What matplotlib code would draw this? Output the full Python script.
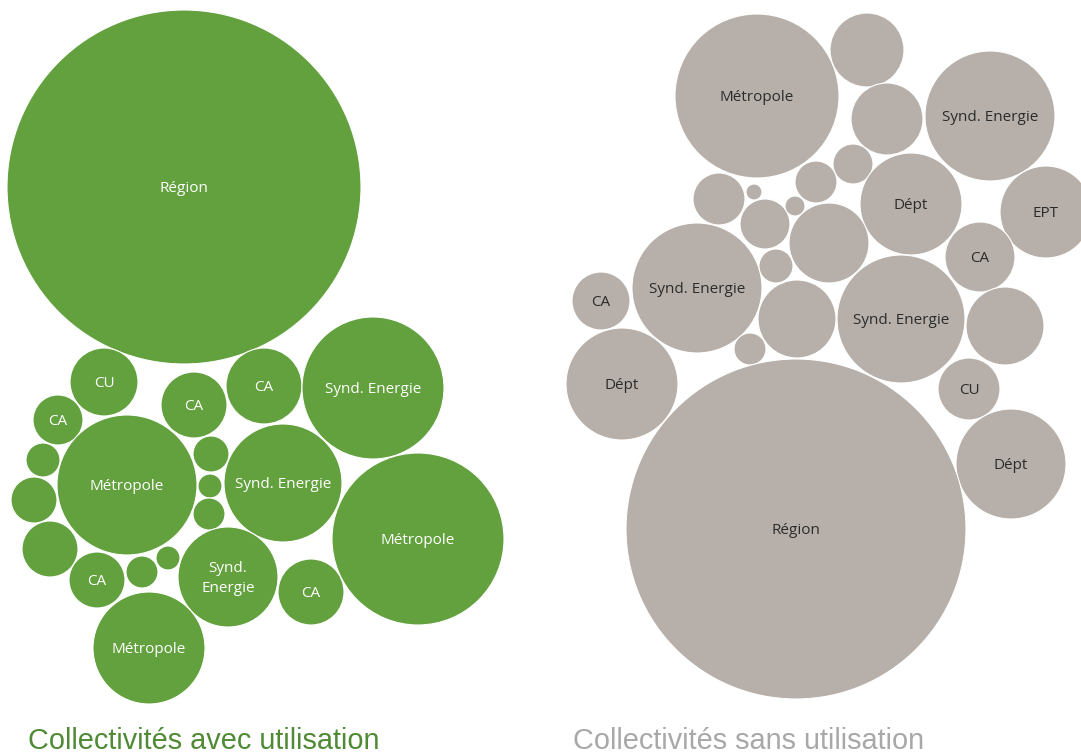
import matplotlib
matplotlib.use("Agg")
import matplotlib.pyplot as plt
from matplotlib.patches import Circle

# ---- Data: bubbles (centre x, centre y, radius in layout units) ----
avec_labels = ["Région", "CU", "CA", "CA", "CA", "Synd. Energie", "Métropole",
               "", "", "", "", "", "", "Synd. Energie", "Métropole", "CA",
               "", "", "Synd.\nEnergie", "CA", "Métropole"]
avec_x = [184, 104, 58, 194, 264, 373, 127, 43, 34, 50, 211, 210, 209, 283, 418, 97,
          142, 168, 228, 311, 149]
avec_y = [187, 382, 420, 405, 386, 388, 485, 460, 500, 549, 454, 486, 514, 483, 539, 580,
          572, 558, 577, 592, 648]
avec_r = [177, 34, 25, 33, 38, 71, 70, 17, 23, 28, 18, 12, 16, 59, 86, 28,
          16, 12, 50, 33, 56]

sans_labels = ["Métropole", "", "", "Synd. Energie", "", "Dépt", "EPT", "", "", "", "",
               "", "", "CA", "Synd. Energie", "CA", "", "", "Synd. Energie", "", "",
               "Dépt", "CU", "Dépt", "Région"]
sans_x = [757, 867, 887, 990, 853, 911, 1046, 816, 719, 754, 765, 795, 829, 980, 697, 601,
          776, 797, 901, 1005, 750, 622, 969, 1011, 796]
sans_y = [96, 50, 119, 116, 164, 204, 212, 182, 199, 192, 224, 206, 243, 257, 288, 301,
          266, 319, 319, 326, 349, 384, 389, 464, 529]
sans_r = [82, 37, 36, 65, 20, 51, 46, 21, 26, 8, 25, 10, 40, 35, 65, 29,
          17, 39, 64, 39, 16, 56, 31, 55, 170]

group_titles = ["Collectivités avec utilisation", "Collectivités sans utilisation"]

# ---- Styles ----
GREEN = "#62a13e"
GREY = "#b7b0aa"
TITLE_GREEN = "#4f8a35"
TITLE_GREY = "#a8a8a8"

W, H = 1081, 755
fig = plt.figure(figsize=(W / 100, H / 100), dpi=100)
ax = fig.add_axes([0, 0, 1, 1])
ax.set_xlim(0, W)
ax.set_ylim(H, 0)
ax.set_aspect("equal")
ax.axis("off")

label_font = ["Open Sans", "DejaVu Sans"]

def draw_group(xs, ys, rs, labels, face, text_color):
    for x, y, r, lab in zip(xs, ys, rs, labels):
        ax.add_patch(Circle((x, y), r, facecolor=face, edgecolor="white", linewidth=0.8))
        if lab:
            ax.text(x, y + 1.5, lab, ha="center", va="center", color=text_color,
                    fontsize=11, family=label_font, linespacing=1.45)

draw_group(avec_x, avec_y, avec_r, avec_labels, GREEN, "white")
draw_group(sans_x, sans_y, sans_r, sans_labels, GREY, "#2b2b2b")

ax.text(28, 749, group_titles[0], ha="left", va="baseline", color=TITLE_GREEN,
        fontsize=20.8, family=["Liberation Sans", "DejaVu Sans"])
ax.text(573, 749, group_titles[1], ha="left", va="baseline", color=TITLE_GREY,
        fontsize=20.8, family=["Liberation Sans", "DejaVu Sans"])

fig.savefig("out.png", dpi=100)
